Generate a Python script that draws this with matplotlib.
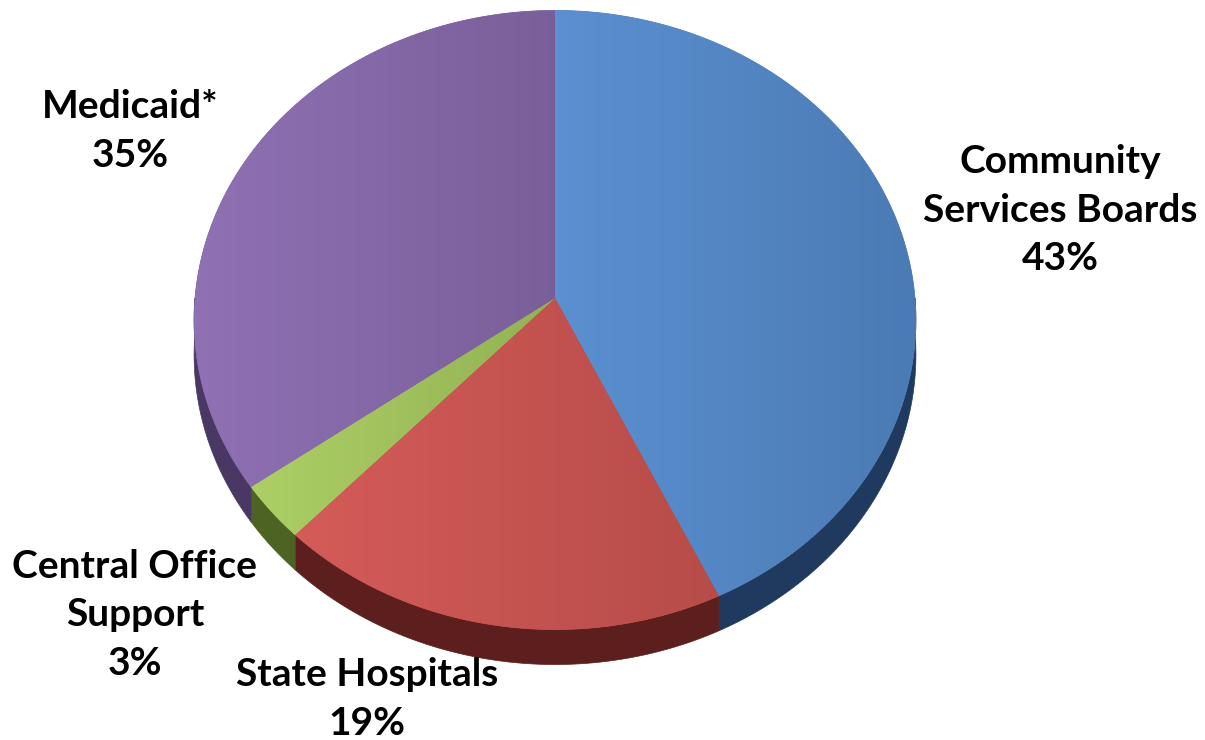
import numpy as np
import matplotlib.pyplot as plt
from matplotlib.patches import Polygon
from matplotlib.colors import to_rgb

# datos del grafico
categorias = ['Community\nServices Boards', 'State Hospitals', 'Central Office\nSupport', 'Medicaid*']
porcentajes = [43, 19, 3, 35]
colores_top = ['#4f81bd', '#c0504d', '#9bbb59', '#8064a2']
colores_lado = ['#1f3a5e', '#5c1f1d', '#4d6323', '#4a3864']

# geometria del pastel en pixeles
cx, cy = 555, 298
rx, ry = 360, 308
persp = 0.071
grosor = 35


def proyectar(ang):
    x = np.cos(ang)
    y = np.sin(ang)
    f = 1 + persp * y
    return cx + rx * x / f, cy - ry * y / f


def degradado(col):
    # imagen con un degradado horizontal suave (mas claro a la izquierda)
    base = np.array(to_rgb(col))
    t = np.linspace(0, 1, 256)[None, :, None]
    claro = np.clip(base * 1.08 + 0.02, 0, 1)
    oscuro = base * 0.95
    return claro * (1 - t) + oscuro * t


fig = plt.figure(figsize=(12.05, 7.4), dpi=100)
ax = fig.add_axes([0, 0, 1, 1])
ax.set_xlim(0, 1205)
ax.set_ylim(740, 0)
ax.axis('off')

# angulos de inicio y fin de cada porcion (sentido horario desde las 12)
fracs = np.array(porcentajes) / sum(porcentajes)
inicio = np.pi / 2 - 2 * np.pi * np.concatenate([[0], np.cumsum(fracs)[:-1]])
fin = inicio - 2 * np.pi * fracs

# lados (solo la parte frontal visible, angulos entre -pi y 0)
for a0, a1, col in zip(inicio, fin, colores_lado):
    for desp in [0, 2 * np.pi, -2 * np.pi]:
        l = max(a1 + desp, -np.pi)
        h = min(a0 + desp, 0)
        if h <= l:
            continue
        t = np.linspace(l, h, 100)
        xs, ys = proyectar(t)
        px = np.concatenate([xs, xs[::-1]])
        py = np.concatenate([ys, ys[::-1] + grosor])
        ax.add_patch(Polygon(np.column_stack([px, py]), closed=True,
                             facecolor=col, edgecolor=col, lw=0.5))

# caras superiores con degradado
for a0, a1, col in zip(inicio, fin, colores_top):
    t = np.linspace(a0, a1, 200)
    xs, ys = proyectar(t)
    px = np.concatenate([[cx], xs])
    py = np.concatenate([[cy], ys])
    poly = Polygon(np.column_stack([px, py]), closed=True,
                   facecolor=col, edgecolor=col, lw=0.5)
    ax.add_patch(poly)
    x0, x1 = px.min(), px.max()
    y0, y1 = py.min(), py.max()
    im = ax.imshow(degradado(col), extent=[x0, x1, y1, y0], aspect='auto',
                   interpolation='bilinear', zorder=2)
    im.set_clip_path(poly)

ax.set_xlim(0, 1205)
ax.set_ylim(740, 0)

# etiquetas
posiciones = [(1060, 210), (367, 699), (135, 615), (130, 131)]
for cat, pct, (x, y) in zip(categorias, porcentajes, posiciones):
    ax.text(x, y, '{0}\n{1}%'.format(cat, pct), ha='center', va='center',
            fontsize=28, fontweight='bold', family='Lato', linespacing=1.45,
            zorder=5)

fig.savefig('out.png', dpi=100)
